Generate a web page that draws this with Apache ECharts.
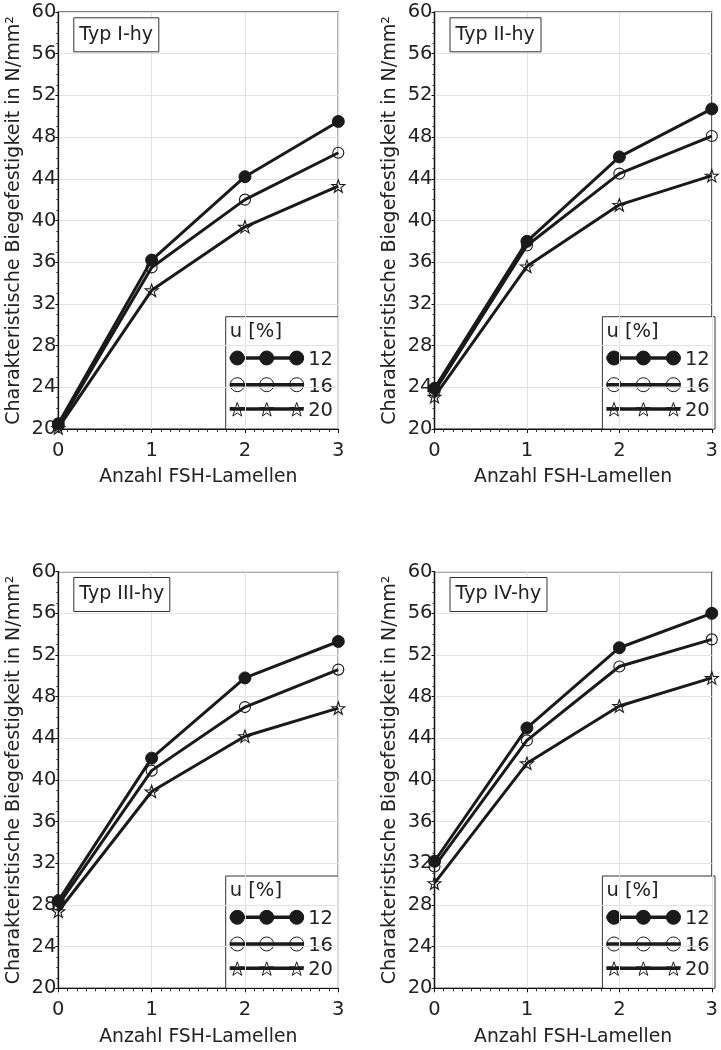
<!DOCTYPE html>
<html>
<head>
<meta charset="utf-8">
<script src="https://cdn.jsdelivr.net/npm/echarts@6/dist/echarts.min.js"></script>
<style>
html,body{margin:0;padding:0;background:#fff;}
#chart{width:721px;height:1050px;}
</style>
</head>
<body>
<div id="chart"></div>
<script>
// ---------------- data ----------------
const xValues = [0, 1, 2, 3];
const panelTitles = ['Typ I-hy', 'Typ II-hy', 'Typ III-hy', 'Typ IV-hy'];
const moistureLevels = ['12', '16', '20'];
const legendTitle = 'u [%]';
const xAxisTitle = 'Anzahl FSH-Lamellen';
const yAxisTitle = 'Charakteristische Biegefestigkeit in N/mm²';
const yMin = 20, yMax = 60, yStep = 4;

const typI_u12 = [20.5, 36.2, 44.2, 49.5];
const typI_u16 = [20.3, 35.5, 42.0, 46.5];
const typI_u20 = [20.1, 33.3, 39.4, 43.3];

const typII_u12 = [23.9, 38.0, 46.1, 50.7];
const typII_u16 = [23.6, 37.6, 44.5, 48.1];
const typII_u20 = [23.1, 35.6, 41.5, 44.3];

const typIII_u12 = [28.4, 42.1, 49.8, 53.3];
const typIII_u16 = [28.0, 40.9, 47.0, 50.6];
const typIII_u20 = [27.4, 38.9, 44.2, 46.9];

const typIV_u12 = [32.2, 45.0, 52.7, 56.0];
const typIV_u16 = [31.7, 43.8, 50.9, 53.5];
const typIV_u20 = [30.1, 41.6, 47.1, 49.8];

const panelData = [
  [typI_u12, typI_u16, typI_u20],
  [typII_u12, typII_u16, typII_u20],
  [typIII_u12, typIII_u16, typIII_u20],
  [typIV_u12, typIV_u16, typIV_u20]
];

// ---------------- layout ----------------
const FONT = 'DejaVu Sans';
const TXT = '#222';
const LINE = '#1a1a1a';
const grids = [
  {left: 58.3, top: 12, width: 280, height: 417},
  {left: 434.5, top: 12, width: 280.5, height: 417},
  {left: 58.3, top: 571.7, width: 280, height: 416.6},
  {left: 434.5, top: 571.7, width: 280.5, height: 416.6}
];

function starPoints(cx, cy, R, r) {
  const pts = [];
  for (let i = 0; i < 10; i++) {
    const a = (-90 + i * 36) * Math.PI / 180;
    const rr = i % 2 === 0 ? R : r;
    pts.push([cx + rr * Math.cos(a), cy + rr * Math.sin(a)]);
  }
  return pts;
}
const starPath = 'path://M' + starPoints(50, 50, 50, 20).map(p => p[0].toFixed(2) + ',' + p[1].toFixed(2)).join('L') + 'Z';

const markerDefs = [
  {symbol: 'circle', size: 12, item: {color: LINE, borderColor: LINE, borderWidth: 1}},
  {symbol: 'circle', size: 11, item: {color: 'rgba(0,0,0,0)', borderColor: LINE, borderWidth: 1.1}},
  {symbol: starPath, size: 13, item: {color: 'rgba(0,0,0,0)', borderColor: LINE, borderWidth: 1.1}}
];

const xAxes = [], yAxes = [], series = [], titles = [], graphics = [];

grids.forEach((g, p) => {
  xAxes.push({
    type: 'value', gridIndex: p, min: 0, max: 3, interval: 1,
    name: xAxisTitle, nameLocation: 'middle', nameGap: 39,
    nameTextStyle: {fontFamily: FONT, fontSize: 18.8, color: TXT},
    axisLine: {show: true, lineStyle: {color: '#111', width: 1.2}},
    axisTick: {show: true, length: 4, lineStyle: {color: '#111'}},
    minorTick: {show: true, splitNumber: 10, length: 3, lineStyle: {color: '#333'}},
    axisLabel: {fontFamily: FONT, fontSize: 19.5, color: TXT, margin: 12},
    splitLine: {show: true, lineStyle: {color: '#e2e2e2', width: 1}}
  });
  yAxes.push({
    type: 'value', gridIndex: p, min: yMin, max: yMax, interval: yStep,
    name: yAxisTitle, nameLocation: 'middle', nameGap: 35,
    nameTextStyle: {fontFamily: FONT, fontSize: 19, color: TXT},
    axisLine: {show: true, lineStyle: {color: '#111', width: 1.2}},
    axisTick: {show: true, length: 3, lineStyle: {color: '#111'}},
    minorTick: {show: true, splitNumber: 4, length: 2, lineStyle: {color: '#333'}},
    axisLabel: {fontFamily: FONT, fontSize: 19.5, color: TXT, margin: 2},
    splitLine: {show: true, lineStyle: {color: '#e2e2e2', width: 1}}
  });
  panelData[p].forEach((vals, s) => {
    const m = markerDefs[s];
    series.push({
      type: 'line', name: moistureLevels[s], xAxisIndex: p, yAxisIndex: p,
      data: xValues.map((x, i) => [x, vals[i]]),
      symbol: m.symbol, symbolSize: m.size, symbolKeepAspect: true,
      showAllSymbol: true, clip: false,
      lineStyle: {color: LINE, width: 3},
      itemStyle: m.item,
      z: 5 - s,
      silent: true, animation: false
    });
  });
  titles.push({
    text: panelTitles[p], left: g.left + 15, top: g.top + 5.3,
    padding: [8, 6, 8, 6], borderColor: '#333', borderWidth: 1, backgroundColor: '#fff',
    textStyle: {fontFamily: FONT, fontSize: 19, fontWeight: 'normal', color: TXT}
  });
  // legend box (drawn as graphic)
  const bw = 112.6, bh = 112.3;
  const bx = g.left + g.width - bw, by = g.top + g.height - bh;
  const children = [];
  children.push({type: 'rect', shape: {x: bx, y: by, width: bw, height: bh}, style: {fill: '#fff', stroke: '#333', lineWidth: 1}});
  children.push({type: 'text', style: {text: legendTitle, x: bx + 4, y: by + 15, verticalAlign: 'middle', fontFamily: FONT, fontSize: 19.5, fill: TXT}});
  const rowY = [41.3, 68, 92.3];
  const mx = [11.6, 41, 71];
  rowY.forEach((ry, s) => {
    const y = by + ry;
    if (s === 0) {
      children.push({type: 'line', shape: {x1: bx + 4, y1: y, x2: bx + 78, y2: y}, style: {stroke: LINE, lineWidth: 3.5}});
      mx.forEach(xo => children.push({type: 'circle', shape: {cx: bx + xo, cy: y, r: 7}, style: {fill: LINE, stroke: LINE}}));
    } else if (s === 1) {
      mx.forEach(xo => children.push({type: 'circle', shape: {cx: bx + xo, cy: y, r: 7}, style: {fill: '#fff', stroke: LINE, lineWidth: 1}}));
      children.push({type: 'line', shape: {x1: bx + 4, y1: y, x2: bx + 78, y2: y}, style: {stroke: LINE, lineWidth: 3.5}});
    } else {
      mx.forEach(xo => children.push({type: 'polygon', shape: {points: starPoints(bx + xo, y + 1, 7.5, 3)}, style: {fill: '#fff', stroke: LINE, lineWidth: 1}}));
      children.push({type: 'line', shape: {x1: bx + 4, y1: y, x2: bx + 78, y2: y}, style: {stroke: LINE, lineWidth: 3.5}});
    }
    children.push({type: 'text', style: {text: moistureLevels[s], x: bx + 82.5, y: y + 2, verticalAlign: 'middle', fontFamily: FONT, fontSize: 19.5, fill: TXT}});
  });
  graphics.push({type: 'group', z: 100, children: children});
});

const chart = echarts.init(document.getElementById('chart'), null, {renderer: 'canvas'});
chart.setOption({
  backgroundColor: '#fff',
  animation: false,
  title: titles,
  grid: grids.map(g => Object.assign({show: true, borderColor: '#555', borderWidth: 1.5, backgroundColor: 'rgba(0,0,0,0)', containLabel: false}, g)),
  xAxis: xAxes,
  yAxis: yAxes,
  series: series,
  graphic: graphics
});
</script>
</body>
</html>
